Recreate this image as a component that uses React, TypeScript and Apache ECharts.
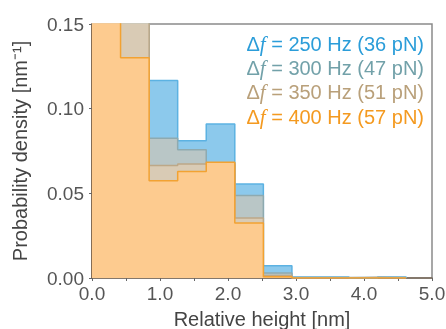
import React, { useEffect, useRef } from "react";
import * as echarts from "echarts";

const binEdges = [0, 0.42, 0.84, 1.26, 1.68, 2.1, 2.52, 2.94, 3.36, 3.78, 4.2, 4.62];
const hz250 = [0.2, 0.16, 0.1166, 0.081, 0.0909, 0.0555, 0.0072, 0.0006, 0.0006, 0.0, 0.0006];
const hz300 = [0.2, 0.16, 0.0826, 0.0757, 0.068, 0.0487, 0.003, 0.0003, 0.0003, 0.0005, 0.0003];
const hz350 = [0.2, 0.16, 0.0665, 0.0673, 0.067, 0.0354, 0.0015, 0.0, 0.0, 0.0003, 0.0];
const hz400 = [0.17, 0.13, 0.0574, 0.0629, 0.0684, 0.0325, 0.0008, 0.0, 0.0, 0.0, 0.0];

const legendLabels = [
  { freq: "250 Hz", force: "36 pN" },
  { freq: "300 Hz", force: "47 pN" },
  { freq: "350 Hz", force: "51 pN" },
  { freq: "400 Hz", force: "57 pN" },
];
const xTicks = [0, 1, 2, 3, 4, 5];
const yTicks = [0, 0.05, 0.1, 0.15];

const lineColors = ["#5cb2e2", "#8eaab0", "#bda888", "#f2a232"];
const fillColors = ["#8cc9ec", "#b9c6c6", "#d9cbb5", "#fdcb8f"];
const textColors = ["#2b9dd9", "#72a1a9", "#b9a07a", "#f49a20"];

function stepData(vals: number[]) {
  const d: number[][] = [];
  for (let i = 0; i < vals.length; i++) d.push([binEdges[i], vals[i]]);
  d.push([binEdges[vals.length], vals[vals.length - 1]]);
  d.push([binEdges[vals.length], 0]);
  return d;
}

export default function App() {
  const ref = useRef<HTMLDivElement>(null);
  useEffect(() => {
    if (!ref.current) return;
    const chart = echarts.init(ref.current, null, { renderer: "svg" });
    const all = [hz250, hz300, hz350, hz400];
    const font = "Liberation Sans";
    const series = all.map((vals, i) => ({
      type: "line",
      step: "end",
      data: stepData(vals),
      symbol: "none",
      lineStyle: { color: lineColors[i], width: 1.5 },
      areaStyle: { color: fillColors[i], opacity: 1 },
      z: 2 + i,
    }));
    const legendTexts = legendLabels.map((l, i) => ({
      type: "text",
      right: 22,
      top: 33 + i * 24.4,
      style: {
        text: `{d|Δ}{f|f}{d| = ${l.freq} (${l.force})}`,
        rich: {
          d: { fontSize: 20, fontFamily: font, fill: textColors[i] },
          f: { fontSize: 21, fontFamily: "Liberation Serif", fontStyle: "italic", fill: textColors[i] },
        },
      },
      z: 100,
    }));
    chart.setOption({
      animation: false,
      grid: {
        left: 92,
        width: 340,
        top: 24,
        height: 254,
        outerBoundsMode: "none",
        containLabel: false,
        show: true,
        borderColor: "#8a8a8a",
        borderWidth: 1.5,
        backgroundColor: "transparent",
      },
      xAxis: {
        type: "value",
        min: 0,
        max: 5,
        interval: 0.5,
        name: "Relative height [nm]",
        nameLocation: "middle",
        nameGap: 28,
        nameTextStyle: { fontSize: 20, fontFamily: font, color: "#444", lineHeight: 22 },
        axisLine: { show: true, lineStyle: { color: "#7a6a5a", width: 1.5 } },
        axisTick: { show: true, length: 3, lineStyle: { color: "#666" } },
        axisLabel: {
          fontSize: 19,
          fontFamily: font,
          color: "#555",
          margin: 6,
          formatter: (v: number) => (xTicks.indexOf(v) >= 0 ? v.toFixed(1) : ""),
        },
        splitLine: { show: false },
      },
      yAxis: {
        type: "value",
        min: 0,
        max: 0.15,
        interval: 0.05,
        name: "Probability density [nm⁻¹]",
        nameLocation: "middle",
        nameGap: 62,
        nameRotate: 90,
        nameTextStyle: { fontSize: 20, fontFamily: font, color: "#444" },
        axisLine: { show: true, lineStyle: { color: "#7a5a3a", width: 1.5 } },
        axisTick: { show: true, length: 3, lineStyle: { color: "#666" } },
        axisLabel: {
          fontSize: 19,
          fontFamily: font,
          color: "#555",
          margin: 8,
          formatter: (v: number) => (yTicks.some((t) => Math.abs(t - v) < 1e-9) ? v.toFixed(2) : ""),
        },
        splitLine: { show: false },
      },
      series,
      graphic: legendTexts,
    });
    return () => chart.dispose();
  }, []);
  return (
    <div
      ref={ref}
      style={{ position: "fixed", left: 0, top: 0, width: 446, height: 329, overflow: "hidden" }}
    />
  );
}
